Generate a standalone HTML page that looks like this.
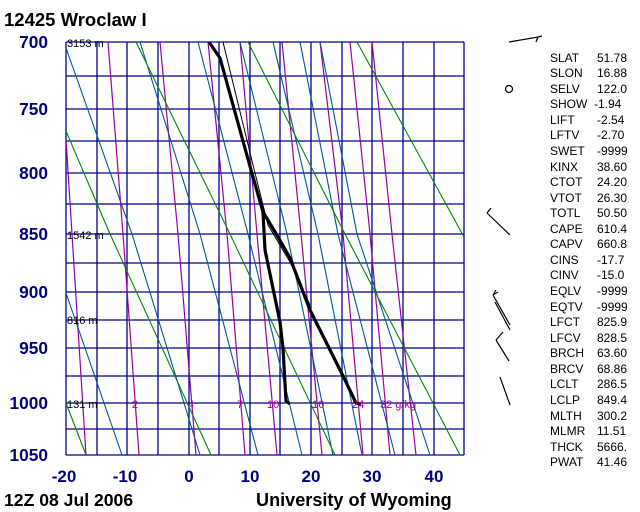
<!DOCTYPE html>
<html><head><meta charset="utf-8"><style>
body{margin:0;background:#fff}
svg{display:block}
text{font-family:"Liberation Sans",sans-serif}
</style></head><body>
<svg width="640" height="512" viewBox="0 0 640 512" xmlns="http://www.w3.org/2000/svg">
<rect width="640" height="512" fill="#fff"/>
<g stroke="#000090" stroke-width="1.3" fill="none">
<path d="M66 42V455M97 42V455M127 42V455M158 42V455M189 42V455M219 42V455M250 42V455M280 42V455M311 42V455M342 42V455M372 42V455M403 42V455M434 42V455M464 42V455"/>
<path d="M66 42H464M66 76H464M66 109H464M66 141H464M66 173H464M66 204H464M66 234H464M66 263H464M66 292H464M66 320H464M66 348H464M66 376H464M66 403H464M66 429H464M66 455H464"/>
</g>
<g stroke="#990099" stroke-width="1.2" fill="none">
<polyline points="66,140 72,234 86,455"/>
<polyline points="108,42 123,234 139,455"/>
<polyline points="160,42 178,234 196,455"/>
<polyline points="208,42 227,234 245,455"/>
<polyline points="240,42 257,234 277,455"/>
<polyline points="282,42 301,234 322,455"/>
<polyline points="320,42 343,234 363,455"/>
<polyline points="350,42 370,234 390,455"/>
<polyline points="372,42 392,234 416,455"/>
</g>
<g stroke="#005599" stroke-width="1.1" fill="none">
<polyline points="66,48 132,234 200,455"/>
<polyline points="140,42 200,234 258,455"/>
<polyline points="198,42 248,234 302,455"/>
<polyline points="240,42 287,234 333,455"/>
<polyline points="273,42 318,234 362,455"/>
<polyline points="300,42 338,234 395,455"/>
<polyline points="320,42 357,234 430,455"/>
<polyline points="66,293 122,455"/>
</g>
<g stroke="#008800" stroke-width="1.1" fill="none">
<polyline points="66,131 110,234 211,455"/>
<polyline points="136,42 230,234 335,455"/>
<polyline points="248,42 345,234 433,403 460,455"/>
<polyline points="357,42 464,237"/>
<polyline points="66,403 86,455"/>
</g>
<polyline points="223,42 253,165 268,225 290,262 310,305" stroke="#000" stroke-width="1" fill="none"/>
<polyline points="209,42 220,58 251,170 263,212 278,237 290,258 310,310 345,380 356,403 361,404" stroke="#000" stroke-width="3.2" fill="none" stroke-linejoin="round"/>
<polyline points="263,212 265,250 280,322 283,348 286,401 290,404" stroke="#000" stroke-width="3.2" fill="none" stroke-linejoin="round"/>
<g font-size="11" fill="#000">
<text x="67" y="47">3153 m</text>
<text x="67" y="239">1542 m</text>
<text x="67" y="324">816 m</text>
<text x="67" y="408">131 m</text>
</g>
<g font-size="11" fill="#990099">
<text x="132" y="408">2</text>
<text x="188" y="408">4</text>
<text x="237" y="408">7</text>
<text x="267" y="408">10</text>
<text x="312" y="408">16</text>
<text x="352" y="408">24</text>
<text x="380" y="408">32 g/kg</text>
</g>
<g font-size="17.3" font-weight="bold" fill="#000080" text-anchor="end">
<text x="48" y="48">700</text>
<text x="48" y="115">750</text>
<text x="48" y="179">800</text>
<text x="48" y="240">850</text>
<text x="48" y="298">900</text>
<text x="48" y="354">950</text>
<text x="48" y="409">1000</text>
<text x="48" y="461">1050</text>
</g>
<g font-size="17" font-weight="bold" fill="#000080" text-anchor="middle">
<text x="64" y="482">-20</text>
<text x="125" y="482">-10</text>
<text x="189" y="482">0</text>
<text x="250" y="482">10</text>
<text x="311" y="482">20</text>
<text x="372" y="482">30</text>
<text x="434" y="482">40</text>
</g>
<text x="4" y="26" font-size="18.5" font-weight="bold" fill="#000">12425  Wroclaw I</text>
<text x="4" y="506" font-size="17.6" font-weight="bold" fill="#000">12Z 08 Jul 2006</text>
<text x="256" y="506" font-size="18.1" font-weight="bold" fill="#000">University of Wyoming</text>
<g stroke="#000" stroke-width="1.2" fill="none">
<path d="M509 42L538 37L536 42M538 37L542 36"/>
<circle cx="509" cy="89" r="3.5"/>
<path d="M487 213L510 235M487 213L491 208"/>
<path d="M493 295L510 325M493 295L496 290M493 295L498 292M495 302L510 330"/>
<path d="M496 340L509 361M496 340L503 332"/>
<path d="M500 377L510 405"/>
</g>
<g font-size="12" fill="#000">
<text x="550" y="62">SLAT</text><text x="597" y="62">51.78</text>
<text x="550" y="77">SLON</text><text x="597" y="77">16.88</text>
<text x="550" y="93">SELV</text><text x="597" y="93">122.0</text>
<text x="550" y="108">SHOW</text><text x="594" y="108">-1.94</text>
<text x="550" y="124">LIFT</text><text x="597" y="124">-2.54</text>
<text x="550" y="139">LFTV</text><text x="597" y="139">-2.70</text>
<text x="550" y="155">SWET</text><text x="597" y="155">-9999</text>
<text x="550" y="171">KINX</text><text x="597" y="171">38.60</text>
<text x="550" y="186">CTOT</text><text x="597" y="186">24.20</text>
<text x="550" y="202">VTOT</text><text x="597" y="202">26.30</text>
<text x="550" y="217">TOTL</text><text x="597" y="217">50.50</text>
<text x="550" y="233">CAPE</text><text x="597" y="233">610.4</text>
<text x="550" y="248">CAPV</text><text x="597" y="248">660.8</text>
<text x="550" y="264">CINS</text><text x="597" y="264">-17.7</text>
<text x="550" y="279">CINV</text><text x="597" y="279">-15.0</text>
<text x="550" y="295">EQLV</text><text x="597" y="295">-9999</text>
<text x="550" y="311">EQTV</text><text x="597" y="311">-9999</text>
<text x="550" y="326">LFCT</text><text x="597" y="326">825.9</text>
<text x="550" y="342">LFCV</text><text x="597" y="342">828.5</text>
<text x="550" y="357">BRCH</text><text x="597" y="357">63.60</text>
<text x="550" y="373">BRCV</text><text x="597" y="373">68.86</text>
<text x="550" y="388">LCLT</text><text x="597" y="388">286.5</text>
<text x="550" y="404">LCLP</text><text x="597" y="404">849.4</text>
<text x="550" y="420">MLTH</text><text x="597" y="420">300.2</text>
<text x="550" y="435">MLMR</text><text x="597" y="435">11.51</text>
<text x="550" y="451">THCK</text><text x="597" y="451">5666.</text>
<text x="550" y="466">PWAT</text><text x="597" y="466">41.46</text>
</g>
</svg>
</body></html>
